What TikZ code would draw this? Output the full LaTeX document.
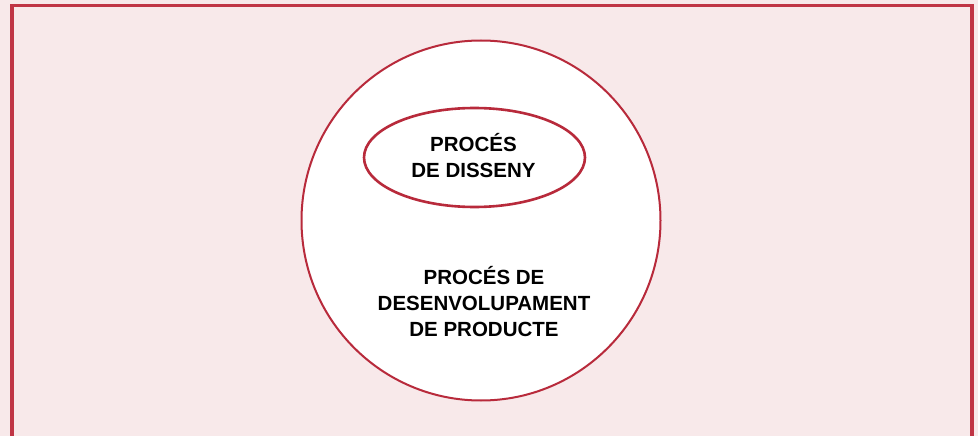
\documentclass[tikz,border=0pt]{standalone}
\usepackage{fontspec}
\setmainfont{Liberation Sans}
\usetikzlibrary{shapes.geometric}
\definecolor{pagepink}{HTML}{F8E9EA}
\definecolor{framered}{HTML}{C03545}
\definecolor{ringred}{HTML}{B82A3B}
\begin{document}
\begin{tikzpicture}[x=1pt,y=-1pt,
  frameline/.style={draw=framered,line width=#1},
  ringline/.style={draw=ringred,line width=#1,fill=white},
  label/.style={font=\fontsize{20.5}{26}\selectfont\bfseries,align=center,inner sep=0pt,text=black}]
  % page background
  \fill[pagepink] (0,0) rectangle (978,436);
  \useasboundingbox (0,0) rectangle (978,436);
  % open frame (left, top, right)
  \coordinate (fl) at (12,436);
  \coordinate (ftl) at (12,5.5);
  \coordinate (ftr) at (972.3,5.5);
  \coordinate (fr) at (972.3,436);
  \draw[frameline=4pt] (fl) -- (ftl);
  \draw[frameline=4pt] (fr) -- (ftr);
  \draw[frameline=2.5pt] ([xshift=-2pt]ftl) -- ([xshift=2pt]ftr);
  % outer process: product development
  \node[ringline=2pt,ellipse,minimum width=359pt,minimum height=360pt,inner sep=0pt] (dev) at (481,220.5) {};
  % inner process: design
  \node[ringline=2.6pt,ellipse,minimum width=221pt,minimum height=99pt,inner sep=0pt] (design) at (474.5,157.5) {};
  \node[label] (designtxt) at (473.5,155.5) {PROCÉS\\DE DISSENY};
  \node[label] (devtxt) at (484,301.5) {PROCÉS DE\\DESENVOLUPAMENT\\DE PRODUCTE};
\end{tikzpicture}
\end{document}
